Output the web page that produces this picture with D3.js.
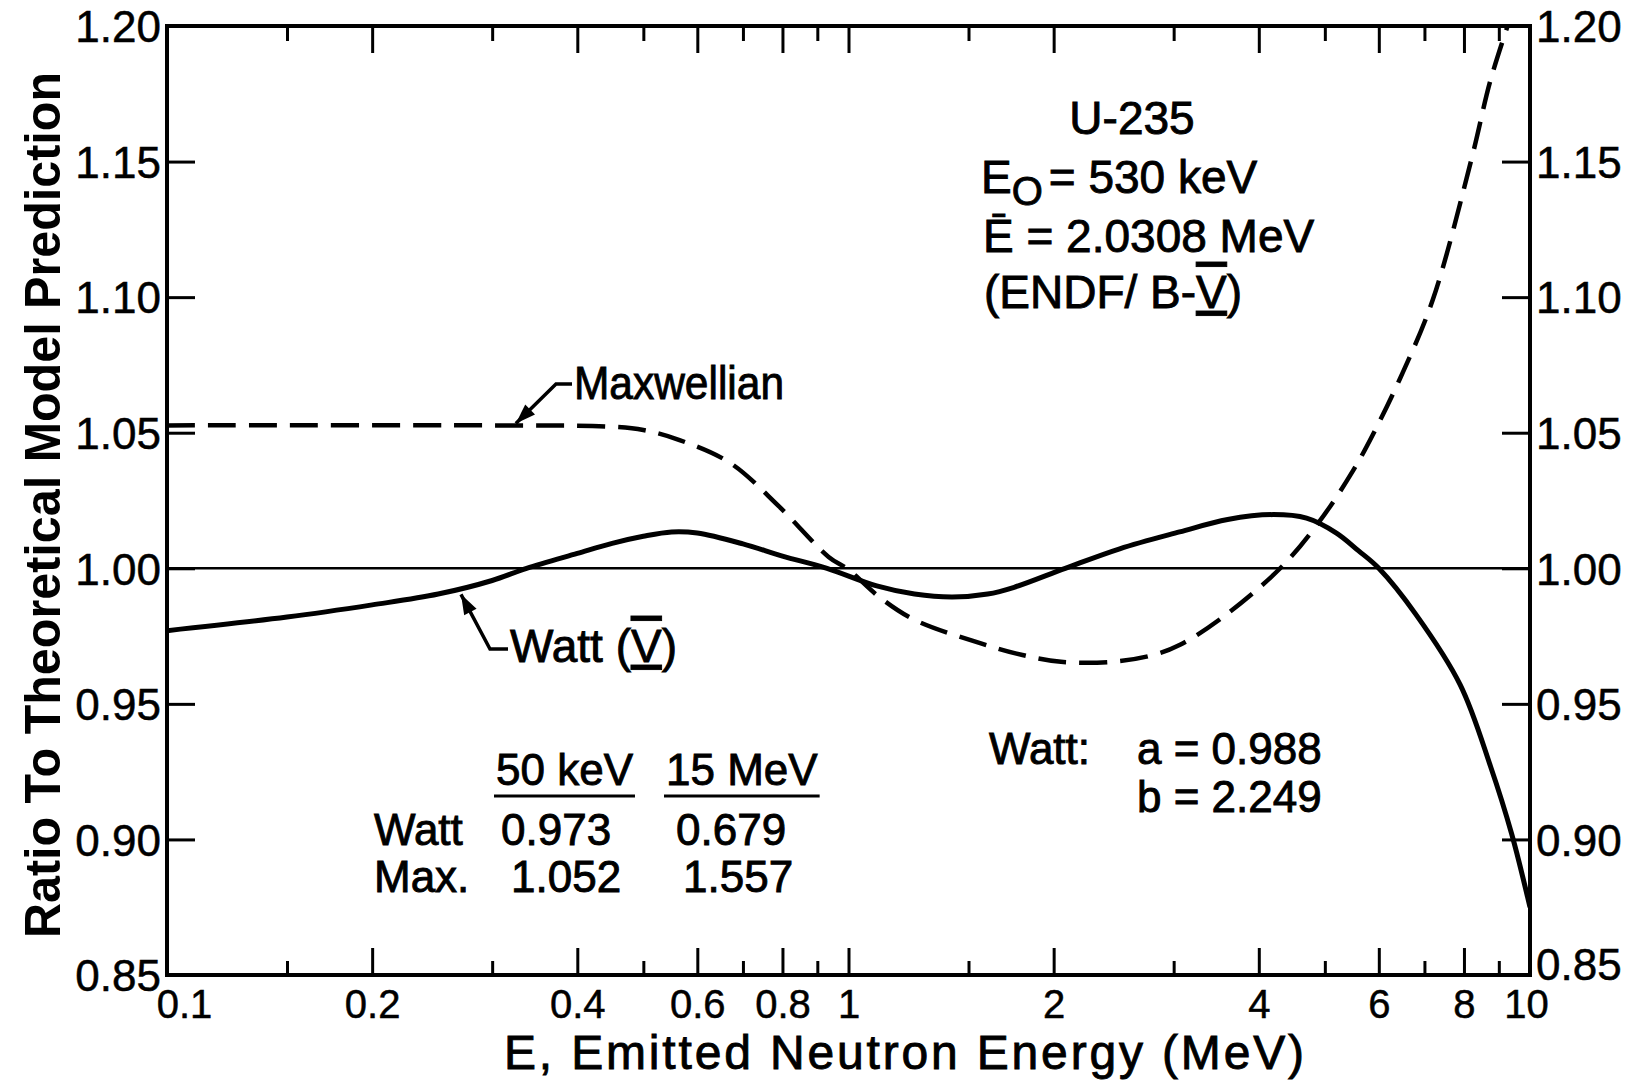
<!DOCTYPE html>
<html>
<head>
<meta charset="utf-8">
<script src="https://cdn.jsdelivr.net/npm/d3@7"></script>
<style>
  body { margin: 0; background: #fff; }
  svg text { font-family: "Liberation Sans", Arial, sans-serif; fill: #000; }
  .lbl { stroke: #000; stroke-width: 0.9px; }
  .axis path.domain { display: none; }
  .axis line { stroke: #000; stroke-width: 3px; }
</style>
</head>
<body>
<svg id="chart" width="1636" height="1084"></svg>
<script>
// energy axis (MeV, log) and ratio axis
var energyLabels = [0.1, 0.2, 0.4, 0.6, 0.8, 1, 2, 4, 6, 8, 10];
var energyMajor = [0.2, 0.4, 0.6, 0.8, 1, 2, 4, 6, 8];
var energyMinor = [0.15, 0.3, 0.5, 0.7, 0.9, 1.5, 3, 5, 7, 9];
var ratioTicks = [0.85, 0.90, 0.95, 1.00, 1.05, 1.10, 1.15, 1.20];

// Watt (ENDF/B-V) ratio
var wattE     = [0.1, 0.15, 0.2, 0.25, 0.3, 0.337, 0.4, 0.45, 0.5, 0.55, 0.6, 0.7, 0.8, 0.93, 1.1, 1.25, 1.42, 1.6, 1.75, 2.08, 2.5, 3.06, 3.6, 4.2, 4.7, 5.2, 5.6, 6.0, 6.8, 7.9, 8.75, 9.4, 10];
var wattRatio = [0.977, 0.982, 0.9865, 0.9905, 0.9955, 1.0, 1.0055, 1.0092, 1.0118, 1.0134, 1.013, 1.009, 1.0045, 1.0, 0.9935, 0.9905, 0.9894, 0.9905, 0.993, 1.0, 1.0072, 1.0134, 1.018, 1.0198, 1.0185, 1.013, 1.0065, 1.0, 0.983, 0.957, 0.927, 0.902, 0.875];

// Maxwellian ratio
var maxE     = [0.1, 0.3, 0.45, 0.5, 0.565, 0.67, 0.79, 0.935, 1.0, 1.11, 1.25, 1.56, 1.8, 2.05, 2.44, 2.8, 3.06, 3.5, 4.3, 4.9, 5.5, 5.9, 6.5, 7.2, 8.2, 8.75, 9.3];
var maxRatio = [1.0527, 1.0527, 1.0522, 1.051, 1.0473, 1.0389, 1.0229, 1.0042, 0.9995, 0.9894, 0.981, 0.9724, 0.968, 0.9655, 0.9655, 0.968, 0.9717, 0.981, 1.0, 1.017, 1.036, 1.05, 1.072, 1.099, 1.1506, 1.18, 1.201];

// table of values at the ends of the range
var tableCols = ["50 keV", "15 MeV"];
var tableRows = ["Watt", "Max."];
var tableVals = [["0.973", "0.679"], ["1.052", "1.557"]];

var svg = d3.select("#chart");
var L = 167, R = 1530, T = 26, B = 975;

var x = d3.scaleLog().domain([0.1, 10]).range([L, R]);
var y = d3.scaleLinear().domain([0.85, 1.20]).range([B, T]);

svg.append("defs").append("clipPath").attr("id", "plotclip")
  .append("rect").attr("x", L).attr("y", T).attr("width", R - L).attr("height", B - T);

// ticks (inward) on all four sides
function tickAxis(gen, vals, size, tr) {
  var g = svg.append("g").attr("class", "axis").attr("transform", tr)
    .call(gen.tickValues(vals).tickSize(size).tickFormat(""));
  g.selectAll("text").remove();
}
tickAxis(d3.axisBottom(x), energyMajor, -27, "translate(0," + B + ")");
tickAxis(d3.axisBottom(x), energyMinor, -14, "translate(0," + B + ")");
tickAxis(d3.axisTop(x), energyMajor, -27, "translate(0," + T + ")");
tickAxis(d3.axisTop(x), energyMinor, -15, "translate(0," + T + ")");
tickAxis(d3.axisLeft(y), ratioTicks, -28, "translate(" + L + ",0)");
tickAxis(d3.axisRight(y), ratioTicks, -28, "translate(" + R + ",0)");

// tick labels
var fmtE = function(d){ return d < 1 ? d3.format(".1f")(d) : String(d); };
var xl = svg.append("g").attr("class", "axis").attr("transform", "translate(0," + B + ")")
  .call(d3.axisBottom(x).tickValues(energyLabels).tickSize(0).tickFormat(fmtE));
xl.selectAll("text").attr("y", 43).attr("dy", 0).attr("font-size", 40)
  .attr("class", "lbl").style("stroke-width", "0.5px")
  .attr("dx", function(d){ return d === 0.1 ? 17 : (d === 10 ? -4 : 0); });

var yl = svg.append("g").attr("class", "axis").attr("transform", "translate(" + L + ",0)")
  .call(d3.axisLeft(y).tickValues(ratioTicks).tickSize(0).tickPadding(6).tickFormat(d3.format(".2f")));
yl.selectAll("text").attr("font-size", 44).attr("dy", "0.36em").attr("class", "lbl").style("stroke-width", "0.5px");

var yr = svg.append("g").attr("class", "axis").attr("transform", "translate(" + R + ",0)")
  .call(d3.axisRight(y).tickValues(ratioTicks).tickSize(0).tickPadding(6).tickFormat(d3.format(".2f")));
yr.selectAll("text").attr("font-size", 44).attr("class", "lbl").style("stroke-width", "0.5px")
  .attr("dy", function(d){ return d === 0.85 ? "0.1em" : "0.36em"; });

// frame
svg.append("rect").attr("x", L).attr("y", T).attr("width", R - L).attr("height", B - T)
  .attr("fill", "none").attr("stroke", "#000").attr("stroke-width", 4);

// unity line
svg.append("line").attr("x1", L).attr("x2", R).attr("y1", y(1)).attr("y2", y(1))
  .attr("stroke", "#000").attr("stroke-width", 2.5);

var line = d3.line().x(function(d){ return x(d[0]); }).y(function(d){ return y(d[1]); })
  .curve(d3.curveCatmullRom.alpha(0.5));

var plot = svg.append("g").attr("clip-path", "url(#plotclip)");
plot.append("path").datum(d3.zip(maxE, maxRatio)).attr("d", line)
  .attr("fill", "none").attr("stroke", "#000").attr("stroke-width", 4.5)
  .attr("stroke-dasharray", "28 13");
plot.append("path").datum(d3.zip(wattE, wattRatio)).attr("d", line)
  .attr("fill", "none").attr("stroke", "#000").attr("stroke-width", 5);

// leader arrows
function leader(pts) {
  svg.append("path").attr("d", d3.line()(pts)).attr("fill", "none")
    .attr("stroke", "#000").attr("stroke-width", 3.5);
  var a = pts[pts.length - 1], b = pts[pts.length - 2];
  var ang = Math.atan2(a[1] - b[1], a[0] - b[0]);
  var len = 20, wid = 7;
  var bx = a[0] - len * Math.cos(ang), by = a[1] - len * Math.sin(ang);
  var p1 = [bx + wid * Math.sin(ang), by - wid * Math.cos(ang)];
  var p2 = [bx - wid * Math.sin(ang), by + wid * Math.cos(ang)];
  svg.append("path").attr("d", "M" + a + "L" + p1 + "L" + p2 + "Z").attr("fill", "#000");
}
leader([[572, 384], [556, 384], [x(0.325), y(1.0527) - 2]]);
leader([[508, 649], [490, 649], [x(0.27), y(0.9915) + 3]]);

function txt(s, px, py, fs, anchor) {
  return svg.append("text").attr("class", "lbl").attr("x", px).attr("y", py)
    .attr("font-size", fs).attr("text-anchor", anchor || "start").text(s);
}
function roman5(t) {
  t.append("tspan").style("text-decoration", "underline overline").text("V");
}

txt("Maxwellian", 574, 399, 46).attr("textLength", 210).attr("lengthAdjust", "spacingAndGlyphs");
var wt = txt("Watt (", 510, 662, 46);
roman5(wt);
wt.append("tspan").text(")");

// info block
txt("U-235", 1132, 134, 46, "middle");
var e0 = txt("E", 981, 193, 46);
e0.append("tspan").attr("dy", 12).attr("font-size", 40).text("O");
e0.append("tspan").attr("dy", -12).attr("dx", 6).text("= 530 keV");
txt("\u0112 = 2.0308 MeV", 983, 252, 46);
var endf = txt("(ENDF/ B-", 984, 308, 46);
roman5(endf);
endf.append("tspan").text(")");

txt("Watt:", 989, 764, 44);
txt("a = 0.988", 1137, 764, 44);
txt("b = 2.249", 1137, 812, 44);

// small table
var colX = [496, 666], valX = [[501, 676], [511, 683]];
tableCols.forEach(function(c, i){
  var t = txt(c, colX[i], 785, 44);
  var w = t.node().getComputedTextLength();
  svg.append("line").attr("x1", colX[i] - 2).attr("x2", colX[i] + w + 2)
    .attr("y1", 796).attr("y2", 796).attr("stroke", "#000").attr("stroke-width", 3);
});
tableRows.forEach(function(r, j){
  var yy = 845 + j * 47;
  txt(r, 374, yy, 44);
  tableVals[j].forEach(function(v, i){ txt(v, valX[j][i], yy, 44); });
});

// axis titles
svg.append("text").attr("font-size", 50).attr("font-weight", "bold")
  .attr("text-anchor", "middle").attr("transform", "translate(60,505) rotate(-90)")
  .attr("textLength", 866).attr("lengthAdjust", "spacingAndGlyphs")
  .text("Ratio To Theoretical Model Prediction");
svg.append("text").attr("class", "lbl").attr("font-size", 48)
  .attr("text-anchor", "middle").attr("x", 904).attr("y", 1069)
  .attr("textLength", 800).attr("lengthAdjust", "spacing")
  .text("E, Emitted Neutron Energy (MeV)");
</script>
</body>
</html>
